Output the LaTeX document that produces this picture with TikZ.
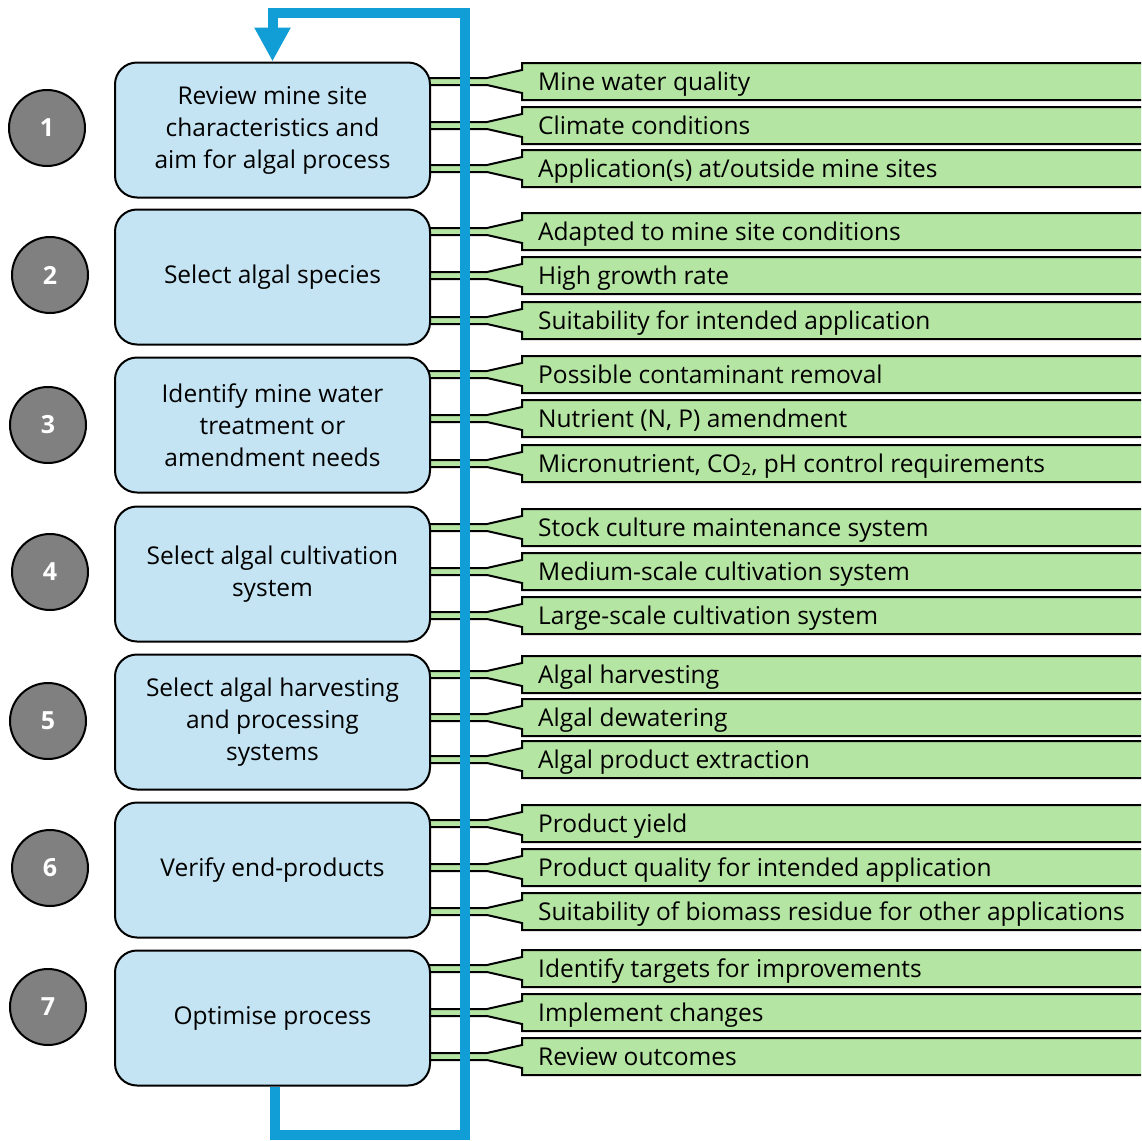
\documentclass[tikz,border=0pt]{standalone}
\usepackage{fontspec}
\setmainfont{Open Sans}
\usetikzlibrary{arrows.meta}

\definecolor{boxblue}{RGB}{196,228,243}
\definecolor{loopblue}{RGB}{17,158,214}
\definecolor{leafgreen}{RGB}{181,229,162}
\definecolor{numgray}{RGB}{128,128,128}

\tikzset{
  stepbox/.style={draw=black, line width=2pt, fill=boxblue, rounded corners=22pt,
    minimum width=315pt, minimum height=135pt, inner sep=0pt, align=center,
    font=\fontsize{24.5}{32}\selectfont},
  numdisc/.style={circle, draw=black, line width=2pt, fill=numgray, minimum size=76pt,
    inner sep=0pt, text=white, font=\fontsize{25}{25}\selectfont\bfseries},
  leafbar/.style={draw=black, line width=2pt, fill=leafgreen, line join=miter},
  leaftext/.style={anchor=base west, inner sep=0pt, font=\fontsize{24.5}{28}\selectfont},
  feedback/.style={draw=loopblue, line width=10pt, line join=miter,
    -{Triangle[width=34pt, length=34pt]}}
}

\begin{document}
\begin{tikzpicture}[x=1pt, y=-1pt]
\useasboundingbox (0,0) rectangle (1141,1141);
\clip (0,0) rectangle (1141,1141);

% detail bars with their stems, drawn first so the boxes cover the stem ends
\foreach \t/\lab [count=\i] in {
  63/{Mine water quality}, 107/{Climate conditions}, 150/{Application(s) at/outside mine sites},
  213/{Adapted to mine site conditions}, 257/{High growth rate}, 302/{Suitability for intended application},
  356/{Possible contaminant removal}, 400/{Nutrient (N, P) amendment}, 445/{Micronutrient, CO\textsubscript{2}, pH control requirements},
  509/{Stock culture maintenance system}, 553/{Medium-scale cultivation system}, 597/{Large-scale cultivation system},
  656/{Algal harvesting}, 699/{Algal dewatering}, 741/{Algal product extraction},
  805/{Product yield}, 849/{Product quality for intended application}, 893/{Suitability of biomass residue for other applications},
  950/{Identify targets for improvements}, 994/{Implement changes}, 1038/{Review outcomes}} {
  \pgfmathsetmacro{\c}{\t+18.5}
  \draw[leafbar] (425,\c-3.5) -- (487,\c-3.5) -- (522,\c-11.5) -- (522,\t) -- (1160,\t)
    -- (1160,\t+37) -- (522,\t+37) -- (522,\c+11.5) -- (487,\c+3.5) -- (425,\c+3.5) -- cycle;
  \node[leaftext] (d\i) at (538,\c+8.5) {\lab};
}

% process steps
\node[stepbox] (s1) at (272.5,130) {Review mine site\\characteristics and\\aim for algal process};
\node[stepbox] (s2) at (272.5,277) {Select algal species};
\node[stepbox] (s3) at (272.5,425) {Identify mine water\\treatment or\\amendment needs};
\node[stepbox] (s4) at (272.5,574) {Select algal cultivation\\system};
\node[stepbox] (s5) at (272.5,722) {Select algal harvesting\\and processing\\systems};
\node[stepbox] (s6) at (272.5,870) {Verify end-products};
\node[stepbox] (s7) at (272.5,1018) {Optimise process};

% step numbers
\node[numdisc] (n1) at (47,128) {1};
\node[numdisc] (n2) at (50,275) {2};
\node[numdisc] (n3) at (48,425) {3};
\node[numdisc] (n4) at (50,572) {4};
\node[numdisc] (n5) at (48,721) {5};
\node[numdisc] (n6) at (50,868) {6};
\node[numdisc] (n7) at (48,1007) {7};

% feedback loop from the last step back to the first
\draw[feedback] ([xshift=2.5pt]s7.south) |- (465,1135) |- (s1.north |- 0,13) -- (s1.north);
\end{tikzpicture}
\end{document}
